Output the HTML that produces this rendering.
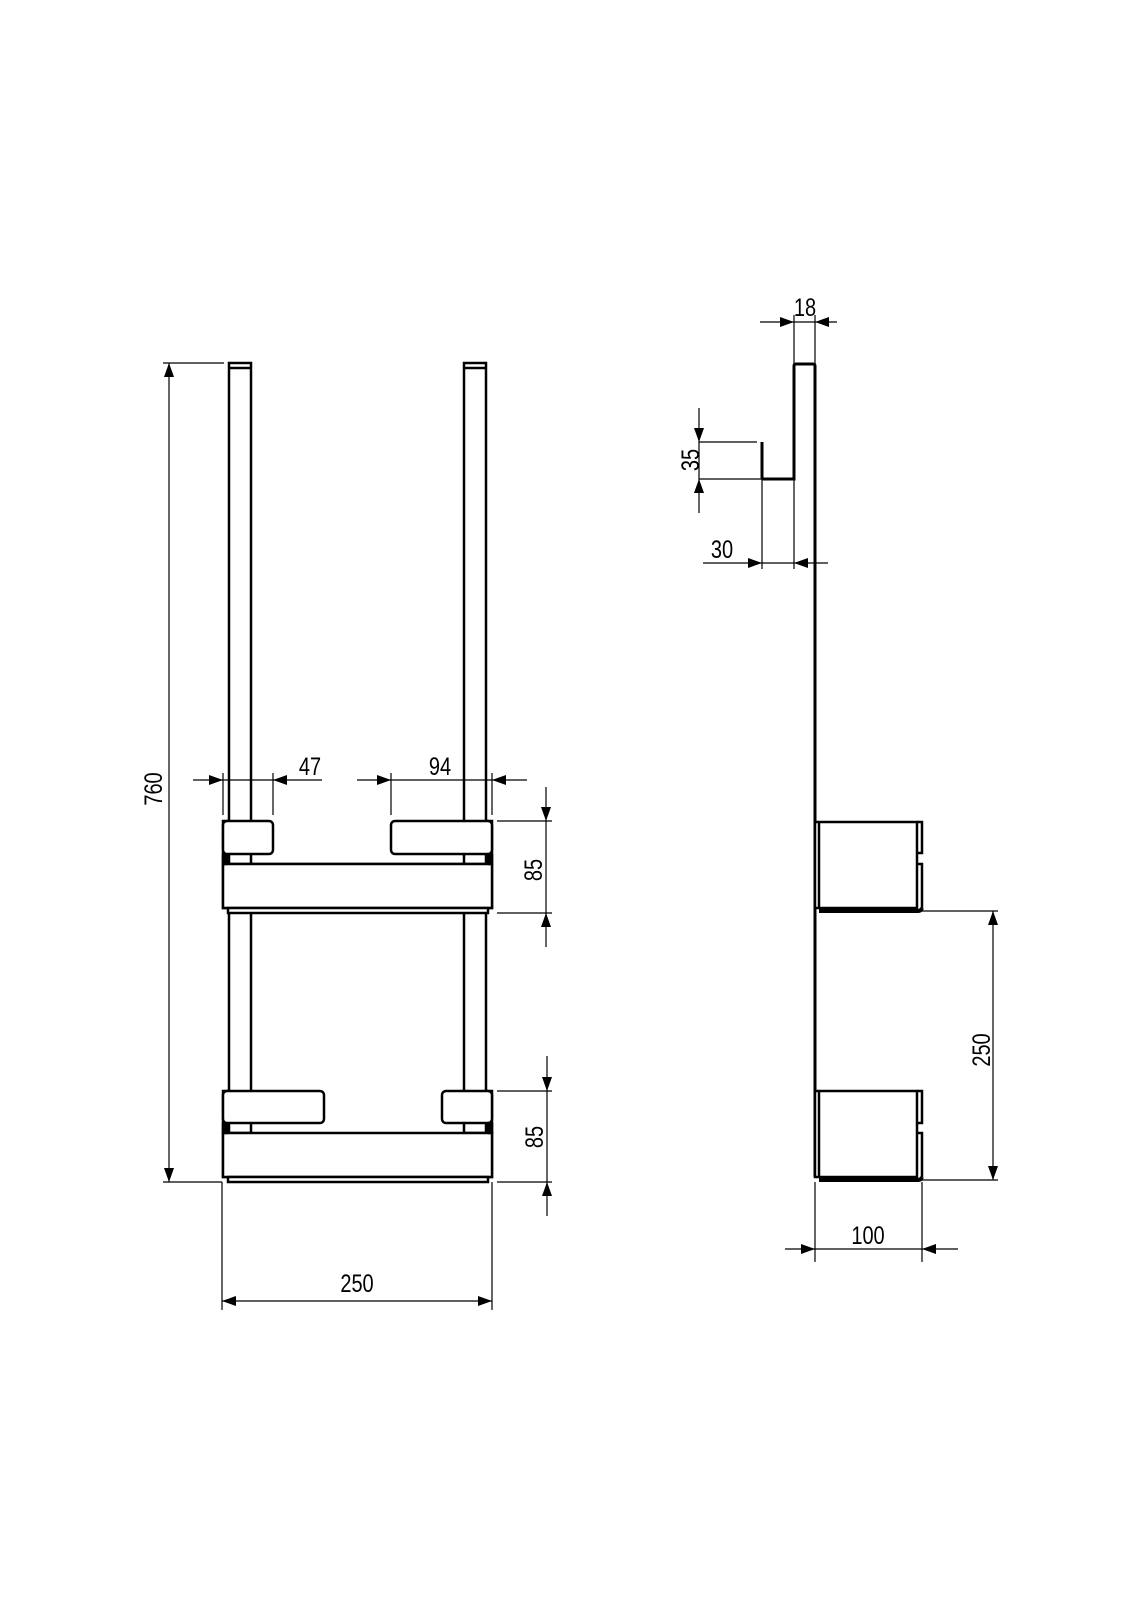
<!DOCTYPE html>
<html><head><meta charset="utf-8"><style>
html,body{margin:0;padding:0;background:#fff;}
svg{display:block;}
text{font-family:"Liberation Sans",sans-serif;font-size:25px;fill:#000;}
</style></head><body>
<svg width="1131" height="1600" viewBox="0 0 1131 1600" xmlns="http://www.w3.org/2000/svg">
<defs>
<marker id="a" viewBox="0 0 14 10" refX="14" refY="5" markerWidth="14" markerHeight="10" markerUnits="userSpaceOnUse" orient="auto-start-reverse">
<path d="M0,0 L14,5 L0,10 z" fill="#000"/>
</marker>
</defs>
<g fill="none" stroke="#000">
<g stroke-width="2.5">
<rect x="229" y="363" width="22" height="770" fill="#fff"/>
<rect x="464" y="363" width="22" height="770" fill="#fff"/>
<line x1="229" y1="368" x2="251" y2="368"/>
<line x1="464" y1="368" x2="486" y2="368"/>
<rect x="223" y="821" width="5" height="87" fill="#fff"/>
<rect x="487" y="821" width="5" height="87" fill="#fff"/>
<rect x="223" y="821" width="50" height="33" rx="4" fill="#fff"/>
<rect x="391" y="821" width="101" height="33" rx="4" fill="#fff"/>
<line x1="223" y1="864" x2="492" y2="864"/>
<rect x="223" y="864" width="269" height="44" fill="#fff"/>
<rect x="228" y="908" width="260" height="5" fill="#fff"/>
<rect x="223" y="855" width="3" height="9" fill="#000"/>
<rect x="489" y="855" width="3" height="9" fill="#000"/>
<rect x="223" y="1091" width="5" height="86" fill="#fff"/>
<rect x="487" y="1091" width="5" height="86" fill="#fff"/>
<rect x="223" y="1091" width="101" height="32" rx="4" fill="#fff"/>
<rect x="442" y="1091" width="50" height="32" rx="4" fill="#fff"/>
<rect x="223" y="1133" width="269" height="44" fill="#fff"/>
<rect x="228" y="1177" width="260" height="5" fill="#fff"/>
<rect x="223" y="1124" width="3" height="9" fill="#000"/>
<rect x="489" y="1124" width="3" height="9" fill="#000"/>
</g>
<g stroke-width="1.2">
<line x1="163" y1="363" x2="224" y2="363"/>
<line x1="163" y1="1182" x2="222" y2="1182"/>
<line x1="169" y1="363" x2="169" y2="1182" marker-start="url(#a)" marker-end="url(#a)"/>
<line x1="222" y1="1182" x2="222" y2="1310"/>
<line x1="492" y1="1182" x2="492" y2="1310"/>
<line x1="222" y1="1301" x2="492" y2="1301" marker-start="url(#a)" marker-end="url(#a)"/>
<line x1="223" y1="773" x2="223" y2="815"/>
<line x1="273" y1="773" x2="273" y2="815"/>
<line x1="193" y1="780" x2="223" y2="780" marker-end="url(#a)"/>
<line x1="223" y1="780" x2="273" y2="780"/>
<line x1="322" y1="780" x2="273" y2="780" marker-end="url(#a)"/>
<line x1="391" y1="773" x2="391" y2="815"/>
<line x1="492" y1="773" x2="492" y2="815"/>
<line x1="357" y1="780" x2="391" y2="780" marker-end="url(#a)"/>
<line x1="391" y1="780" x2="492" y2="780"/>
<line x1="527" y1="780" x2="492" y2="780" marker-end="url(#a)"/>
<line x1="497" y1="821" x2="552" y2="821"/>
<line x1="497" y1="913" x2="552" y2="913"/>
<line x1="546" y1="787" x2="546" y2="821" marker-end="url(#a)"/>
<line x1="546" y1="821" x2="546" y2="913"/>
<line x1="546" y1="947" x2="546" y2="913" marker-end="url(#a)"/>
<line x1="497" y1="1091" x2="552" y2="1091"/>
<line x1="497" y1="1182" x2="552" y2="1182"/>
<line x1="547" y1="1056" x2="547" y2="1091" marker-end="url(#a)"/>
<line x1="547" y1="1091" x2="547" y2="1182"/>
<line x1="547" y1="1216" x2="547" y2="1182" marker-end="url(#a)"/>
</g>
<path d="M762,442 V477 Q762,479 764,479 H794 V366 Q794,364 796,364 H813 Q815,364 815,366 V822" stroke-width="3"/>
<line x1="815" y1="822" x2="815" y2="1177" stroke-width="3"/>
<g stroke-width="2.5">
<rect x="815" y="822" width="102" height="86" fill="#fff"/>
<line x1="819" y1="822" x2="819" y2="908"/>
<path d="M917,822 H922 V853 H917 M917,864 H922 V908"/>
<path d="M819,911 H918 Q921,911 922,908" stroke-width="4"/>
<rect x="815" y="1091" width="102" height="86" fill="#fff"/>
<line x1="819" y1="1091" x2="819" y2="1177"/>
<path d="M917,1091 H922 V1123 H917 M917,1133 H922 V1177"/>
<path d="M819,1180 H918 Q921,1180 922,1177" stroke-width="4"/>
</g>
<g stroke-width="1.2">
<line x1="794" y1="315" x2="794" y2="364"/>
<line x1="815" y1="315" x2="815" y2="364"/>
<line x1="760" y1="322" x2="794" y2="322" marker-end="url(#a)"/>
<line x1="794" y1="322" x2="815" y2="322"/>
<line x1="837" y1="322" x2="815" y2="322" marker-end="url(#a)"/>
<line x1="699" y1="442" x2="757" y2="442"/>
<line x1="699" y1="479" x2="762" y2="479"/>
<line x1="699" y1="408" x2="699" y2="442" marker-end="url(#a)"/>
<line x1="699" y1="442" x2="699" y2="479"/>
<line x1="699" y1="513" x2="699" y2="479" marker-end="url(#a)"/>
<line x1="762" y1="479" x2="762" y2="569"/>
<line x1="794" y1="479" x2="794" y2="569"/>
<line x1="703" y1="563" x2="762" y2="563" marker-end="url(#a)"/>
<line x1="762" y1="563" x2="794" y2="563"/>
<line x1="828" y1="563" x2="794" y2="563" marker-end="url(#a)"/>
<line x1="922" y1="911" x2="998" y2="911"/>
<line x1="922" y1="1180" x2="998" y2="1180"/>
<line x1="993" y1="911" x2="993" y2="1180" marker-start="url(#a)" marker-end="url(#a)"/>
<line x1="815" y1="1182" x2="815" y2="1262"/>
<line x1="922" y1="1182" x2="922" y2="1262"/>
<line x1="785" y1="1249" x2="815" y2="1249" marker-end="url(#a)"/>
<line x1="815" y1="1249" x2="922" y2="1249"/>
<line x1="958" y1="1249" x2="922" y2="1249" marker-end="url(#a)"/>
</g>
</g>
<text transform="translate(310,775) scale(0.8,1)" text-anchor="middle">47</text>
<text transform="translate(440,775) scale(0.8,1)" text-anchor="middle">94</text>
<text transform="translate(357,1292) scale(0.8,1)" text-anchor="middle">250</text>
<text transform="translate(805,316) scale(0.8,1)" text-anchor="middle">18</text>
<text transform="translate(722,558) scale(0.8,1)" text-anchor="middle">30</text>
<text transform="translate(868,1244) scale(0.8,1)" text-anchor="middle">100</text>
<text transform="translate(162,789) rotate(-90) scale(0.8,1)" text-anchor="middle">760</text>
<text transform="translate(542,870) rotate(-90) scale(0.8,1)" text-anchor="middle">85</text>
<text transform="translate(543,1137) rotate(-90) scale(0.8,1)" text-anchor="middle">85</text>
<text transform="translate(699,460) rotate(-90) scale(0.8,1)" text-anchor="middle">35</text>
<text transform="translate(990,1050) rotate(-90) scale(0.8,1)" text-anchor="middle">250</text>
</svg>
</body></html>
